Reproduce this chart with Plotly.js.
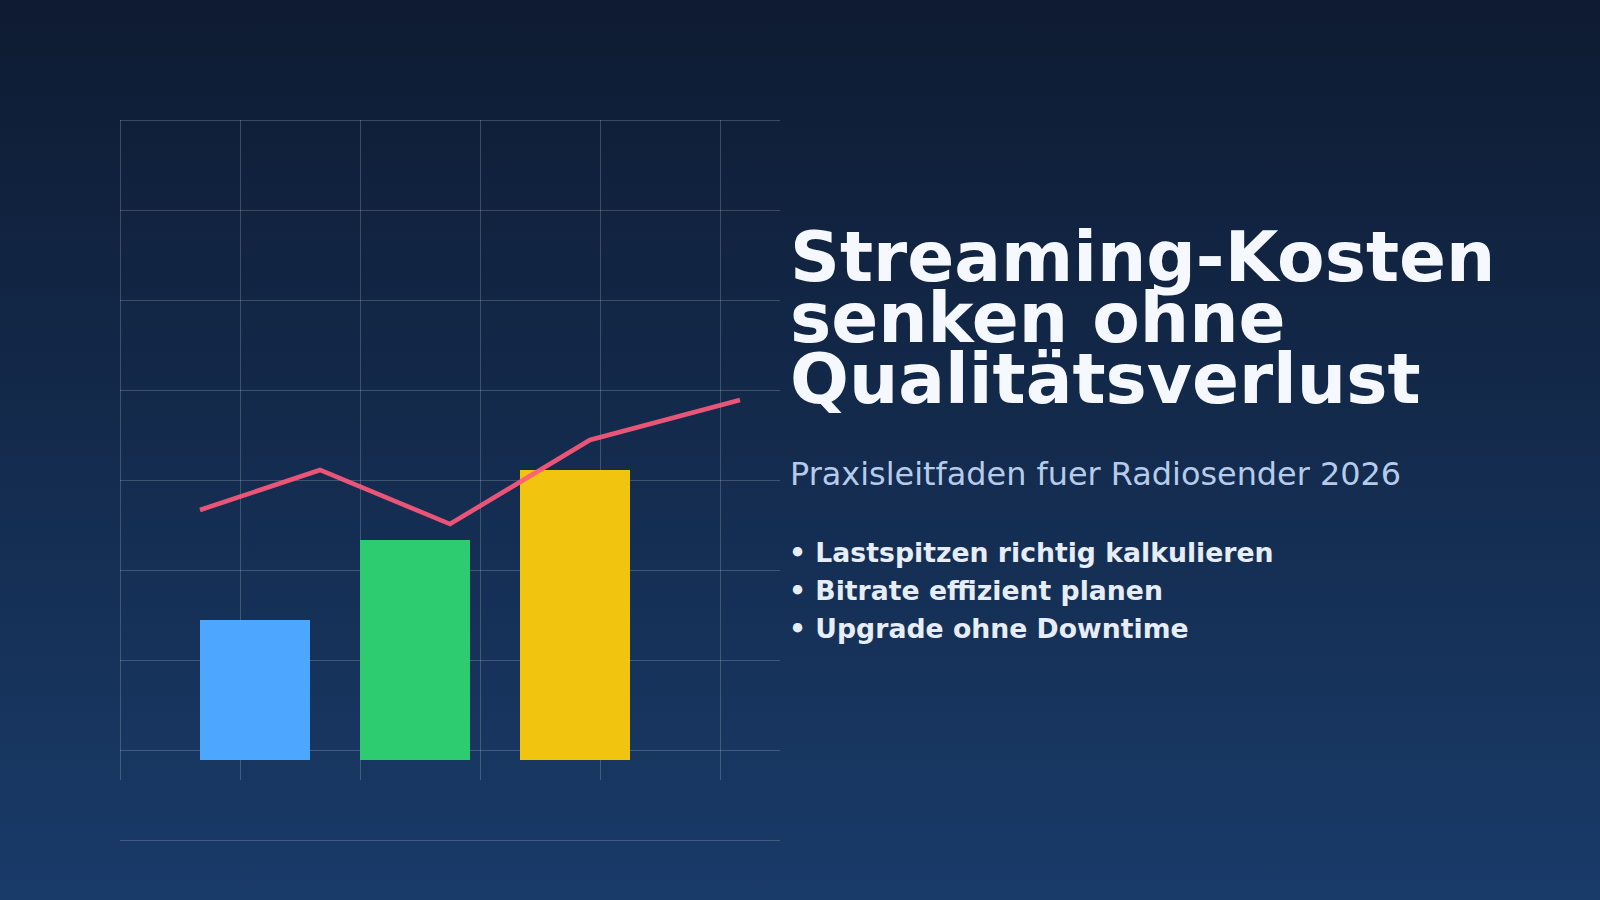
<!DOCTYPE html>
<html>
<head>
<meta charset="utf-8">
<script src="https://cdn.plot.ly/plotly-3.0.1.min.js"></script>
<style>
    html, body {
        margin: 0;
        padding: 0;
        overflow: hidden;
        background: linear-gradient(180deg, #0e1b32 0%, #193b69 100%);
    }
    #chart {
        width: 1600px;
        height: 900px;
    }
</style>
</head>
<body>
<div id="chart"></div>
<script>
// bar values (left to right)
let barX = [13.5, 29.5, 45.5];
let barValues = [14, 22, 29];

// trend line
let lineX = [8, 20, 33, 47, 62];
let lineY = [25, 29, 23.6, 32, 36];

// texts
let titleLines = ['Streaming-Kosten', 'senken ohne', 'Qualitätsverlust'];
let subtitle = 'Praxisleitfaden fuer Radiosender 2026';
let bullets = ['Lastspitzen richtig kalkulieren', 'Bitrate effizient planen', 'Upgrade ohne Downtime'];

let barColors = ['#4da6ff', '#2ecc71', '#f1c40f'];
let gridColor = 'rgba(255,255,255,0.19)';
let W = 1600;
let H = 900;

function px(x) {
    return x / W;
}

function py(y) {
    return 1 - y / H;
}

let data = [
    {
        // empty trace, only so the vertical grid subplot gets drawn (below the bars)
        type: 'scatter',
        mode: 'lines',
        x: [],
        y: [],
        xaxis: 'x',
        yaxis: 'y',
        hoverinfo: 'skip'
    },
    {
        type: 'bar',
        x: barX,
        y: barValues,
        width: 11,
        xaxis: 'x2',
        yaxis: 'y2',
        marker: {
            color: barColors,
            line: {width: 0}
        },
        hoverinfo: 'skip'
    },
    {
        type: 'scatter',
        mode: 'lines',
        x: lineX,
        y: lineY,
        xaxis: 'x2',
        yaxis: 'y2',
        opacity: 0.9,
        line: {
            color: '#ff5a7c',
            width: 4.6
        },
        hoverinfo: 'skip'
    }
];

let annotations = [];

// title, tight line height so one annotation per line
let titleBase = [281, 342, 403];
for (let i = 0; i < titleLines.length; i++) {
    annotations.push({
        xref: 'paper',
        yref: 'paper',
        x: px(788),
        y: py(titleBase[i] - 24),
        xanchor: 'left',
        yanchor: 'middle',
        showarrow: false,
        text: titleLines[i],
        font: {family: 'DejaVu Sans', size: 69.3, weight: 700, color: '#f5f8fe'}
    });
}

annotations.push({
    xref: 'paper',
    yref: 'paper',
    x: px(788),
    y: py(485 - 11),
    xanchor: 'left',
    yanchor: 'middle',
    showarrow: false,
    text: subtitle,
    font: {family: 'DejaVu Sans', size: 31.9, color: '#b6cbea'}
});

let bulletBase = [561.5, 599.8, 638];
for (let i = 0; i < bullets.length; i++) {
    annotations.push({
        xref: 'paper',
        yref: 'paper',
        x: px(787),
        y: py(bulletBase[i] - 9.2),
        xanchor: 'left',
        yanchor: 'middle',
        showarrow: false,
        text: '• ' + bullets[i],
        font: {family: 'DejaVu Sans', size: 26.7, weight: 700, color: '#e6edf7'}
    });
}

let layout = {
    width: W,
    height: H,
    margin: {l: 0, r: 0, t: 0, b: 0},
    paper_bgcolor: 'rgba(0,0,0,0)',
    plot_bgcolor: 'rgba(0,0,0,0)',
    showlegend: false,
    // vertical grid only
    xaxis: {
        domain: [px(118), px(780)],
        range: [-0.2, 66],
        anchor: 'y',
        tick0: 0,
        dtick: 12,
        showgrid: true,
        gridcolor: gridColor,
        gridwidth: 1,
        zeroline: false,
        showline: false,
        showticklabels: false,
        ticks: ''
    },
    yaxis: {
        domain: [py(780), py(120)],
        range: [0, 1],
        anchor: 'x',
        showgrid: false,
        zeroline: false,
        showline: false,
        showticklabels: false,
        ticks: ''
    },
    // data + horizontal grid
    xaxis2: {
        domain: [px(120), px(780)],
        range: [0, 66],
        anchor: 'y2',
        showgrid: false,
        zeroline: false,
        showline: false,
        showticklabels: false,
        ticks: ''
    },
    yaxis2: {
        domain: [py(842), py(118)],
        range: [-8.2, 64.2],
        anchor: 'x2',
        tick0: -8,
        dtick: 9,
        showgrid: true,
        gridcolor: gridColor,
        gridwidth: 1,
        zeroline: false,
        showline: false,
        showticklabels: false,
        ticks: ''
    },
    annotations: annotations
};

Plotly.newPlot('chart', data, layout, {staticPlot: true, displayModeBar: false});
</script>
</body>
</html>
